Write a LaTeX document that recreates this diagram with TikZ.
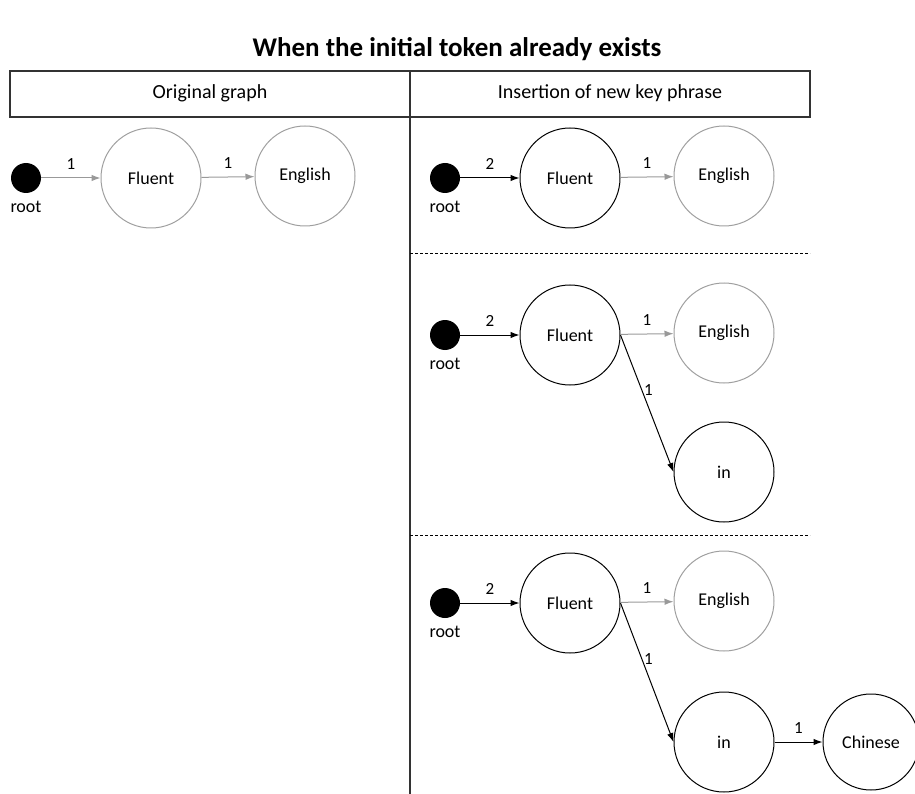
\documentclass[tikz,border=0pt]{standalone}
\usepackage{fontspec}
\setmainfont{Carlito}
\usetikzlibrary{arrows.meta,positioning}

\begin{document}
\begin{tikzpicture}[x=1pt,y=-1pt]
        \tikzstyle{every node}=[font=\fontsize{18}{20}\selectfont]
        \tikzstyle{token}=[circle,draw=black,line width=1pt,minimum size=100pt,inner sep=0pt]
        \tikzstyle{oldtoken}=[token,draw=gray!75]
        \tikzstyle{rootdot}=[circle,fill=black,minimum size=30pt,inner sep=0pt]
        \tikzstyle{edge}=[-{Latex[length=9pt,width=6.5pt]},line width=1pt]
        \tikzstyle{oldedge}=[edge,draw=gray!80]
        \tikzstyle{count}=[font=\fontsize{17}{19}\selectfont,inner sep=2pt]
        \useasboundingbox (0,0) rectangle (915,794);

% title and table
        \node (title) at (457,49) {\fontsize{27}{31}\selectfont\bfseries When the initial token already exists};
        \draw[line width=1.2pt,black!80] (10,71) rectangle (810,117);
        \draw[line width=1.2pt,black!80] (410,71) -- (410,794);
        \node (hleft) at (210,93) {\fontsize{20}{22}\selectfont Original graph};
        \node (hright) at (610,93) {\fontsize{20}{22}\selectfont Insertion of new key phrase};
        \draw[dashed,dash pattern=on 3pt off 2pt,line width=0.8pt] (410,253) -- (810,253);
        \draw[dashed,dash pattern=on 3pt off 2pt,line width=0.8pt] (410,535) -- (810,535);

% original graph
        \node[rootdot] (r0) at (26,178) {};
        \node[below=4pt of r0] (r0lab) {root};
        \node[oldtoken] (f0) at (151,178) {Fluent};
        \node[oldtoken] (e0) at (305,176) {English};
        \draw[oldedge] (r0) -- node[count,above=6pt] {1} (f0);
        \draw[oldedge] (f0) -- node[count,above=6pt] {1} (e0);

% step 1
        \node[rootdot] (r1) at (445,178) {};
        \node[below=4pt of r1] (r1lab) {root};
        \node[token] (f1) at (570,178) {Fluent};
        \node[oldtoken] (e1) at (724,176) {English};
        \draw[edge] (r1) -- node[count,above=6pt] {2} (f1);
        \draw[oldedge] (f1) -- node[count,above=6pt] {1} (e1);

% step 2
        \node[rootdot] (r2) at (445,335) {};
        \node[below=4pt of r2] (r2lab) {root};
        \node[token] (f2) at (570,335) {Fluent};
        \node[oldtoken] (e2) at (724,333) {English};
        \node[token] (i2) at (724,472) {in};
        \draw[edge] (r2) -- node[count,above=6pt] {2} (f2);
        \draw[oldedge] (f2) -- node[count,above=6pt] {1} (e2);
        \draw[edge] (f2.east) -- node[count,pos=0.4,right] {1} (i2.west);

% step 3
        \node[rootdot] (r3) at (445,603) {};
        \node[below=4pt of r3] (r3lab) {root};
        \node[token] (f3) at (570,603) {Fluent};
        \node[oldtoken] (e3) at (724,601) {English};
        \node[token] (i3) at (724,742) {in};
        \node[token,minimum size=96pt] (c3) at (871,742) {Chinese};
        \draw[edge] (r3) -- node[count,above=6pt] {2} (f3);
        \draw[oldedge] (f3) -- node[count,above=6pt] {1} (e3);
        \draw[edge] (f3.east) -- node[count,pos=0.4,right] {1} (i3.west);
        \draw[edge] (i3) -- node[count,above=6pt] {1} (c3);

    \end{tikzpicture}
\end{document}
